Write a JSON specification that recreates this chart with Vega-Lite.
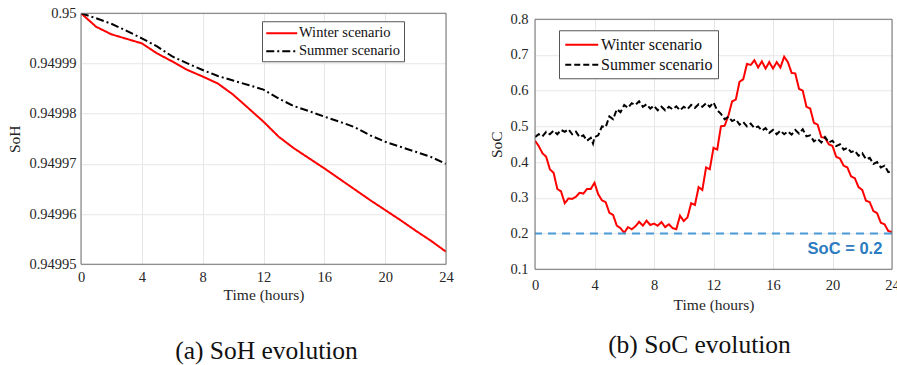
{
  "$schema": "https://vega.github.io/schema/vega-lite/v6.json",
  "background": "white",
  "padding": {"left": 7, "top": 5, "right": 0, "bottom": 0},
  "spacing": 35,
  "center": true,
  "config": {
    "font": "Liberation Serif",
    "view": {"stroke": null},
    "axis": {
      "labelFont": "Liberation Serif", "labelFontSize": 14.5, "labelColor": "#262626",
      "titleFont": "Liberation Serif", "titleFontSize": 15.5, "titleFontWeight": "normal", "titleColor": "#262626",
      "domain": false, "ticks": false, "grid": true, "gridWidth": 1, "gridColor": "#e6e6e6",
      "labelFlush": false, "labelOverlap": false, "labelBound": false, "labelSeparation": 0
    },
    "axisY": {"labelOverlap": false},
    "legend": {
      "labelFont": "Liberation Serif", "labelColor": "#111111",
      "strokeColor": "#555555", "fillColor": "white", "cornerRadius": 0,
      "symbolType": "M-1,0H3", "symbolStrokeWidth": 2
    },
    "title": {"font": "Liberation Serif", "fontWeight": "normal", "color": "#111111"}
  },
  "resolve": {
    "scale": {"color": "independent", "strokeDash": "independent"},
    "legend": {"color": "independent", "strokeDash": "independent"}
  },
  "datasets": {
    "soh": [
      {"t": 0, "v": 0.95, "s": "Winter scenario"},
      {"t": 1, "v": 0.9499973, "s": "Winter scenario"},
      {"t": 2, "v": 0.9499958, "s": "Winter scenario"},
      {"t": 3, "v": 0.9499949, "s": "Winter scenario"},
      {"t": 4, "v": 0.9499940, "s": "Winter scenario"},
      {"t": 5, "v": 0.9499920, "s": "Winter scenario"},
      {"t": 6, "v": 0.9499904, "s": "Winter scenario"},
      {"t": 7, "v": 0.9499887, "s": "Winter scenario"},
      {"t": 8, "v": 0.9499874, "s": "Winter scenario"},
      {"t": 9, "v": 0.9499860, "s": "Winter scenario"},
      {"t": 10, "v": 0.9499838, "s": "Winter scenario"},
      {"t": 11, "v": 0.9499811, "s": "Winter scenario"},
      {"t": 12, "v": 0.9499784, "s": "Winter scenario"},
      {"t": 13, "v": 0.9499754, "s": "Winter scenario"},
      {"t": 14, "v": 0.9499731, "s": "Winter scenario"},
      {"t": 15, "v": 0.9499711, "s": "Winter scenario"},
      {"t": 16, "v": 0.9499691, "s": "Winter scenario"},
      {"t": 17, "v": 0.9499670, "s": "Winter scenario"},
      {"t": 18, "v": 0.9499649, "s": "Winter scenario"},
      {"t": 19, "v": 0.9499628, "s": "Winter scenario"},
      {"t": 20, "v": 0.9499608, "s": "Winter scenario"},
      {"t": 21, "v": 0.9499588, "s": "Winter scenario"},
      {"t": 22, "v": 0.9499567, "s": "Winter scenario"},
      {"t": 23, "v": 0.9499547, "s": "Winter scenario"},
      {"t": 24, "v": 0.9499525, "s": "Winter scenario"},
      {"t": 0, "v": 0.95, "s": "Summer scenario"},
      {"t": 1, "v": 0.9499990, "s": "Summer scenario"},
      {"t": 2, "v": 0.9499979, "s": "Summer scenario"},
      {"t": 3, "v": 0.9499965, "s": "Summer scenario"},
      {"t": 4, "v": 0.9499950, "s": "Summer scenario"},
      {"t": 5, "v": 0.9499934, "s": "Summer scenario"},
      {"t": 6, "v": 0.9499914, "s": "Summer scenario"},
      {"t": 7, "v": 0.9499900, "s": "Summer scenario"},
      {"t": 8, "v": 0.9499887, "s": "Summer scenario"},
      {"t": 9, "v": 0.9499875, "s": "Summer scenario"},
      {"t": 10, "v": 0.9499866, "s": "Summer scenario"},
      {"t": 11, "v": 0.9499857, "s": "Summer scenario"},
      {"t": 12, "v": 0.9499848, "s": "Summer scenario"},
      {"t": 13, "v": 0.9499830, "s": "Summer scenario"},
      {"t": 14, "v": 0.9499815, "s": "Summer scenario"},
      {"t": 15, "v": 0.9499805, "s": "Summer scenario"},
      {"t": 16, "v": 0.9499794, "s": "Summer scenario"},
      {"t": 17, "v": 0.9499784, "s": "Summer scenario"},
      {"t": 18, "v": 0.9499773, "s": "Summer scenario"},
      {"t": 19, "v": 0.9499757, "s": "Summer scenario"},
      {"t": 20, "v": 0.9499744, "s": "Summer scenario"},
      {"t": 21, "v": 0.9499734, "s": "Summer scenario"},
      {"t": 22, "v": 0.9499724, "s": "Summer scenario"},
      {"t": 23, "v": 0.9499714, "s": "Summer scenario"},
      {"t": 24, "v": 0.9499700, "s": "Summer scenario"}
    ],
    "soc": [
      {"t": 0, "v": 0.46, "s": "Winter scenario"},
      {"t": 0.25, "v": 0.445, "s": "Winter scenario"},
      {"t": 0.5, "v": 0.425, "s": "Winter scenario"},
      {"t": 0.75, "v": 0.415, "s": "Winter scenario"},
      {"t": 1.0, "v": 0.38, "s": "Winter scenario"},
      {"t": 1.25, "v": 0.37, "s": "Winter scenario"},
      {"t": 1.5, "v": 0.325, "s": "Winter scenario"},
      {"t": 1.75, "v": 0.318, "s": "Winter scenario"},
      {"t": 2.0, "v": 0.285, "s": "Winter scenario"},
      {"t": 2.25, "v": 0.298, "s": "Winter scenario"},
      {"t": 2.5, "v": 0.297, "s": "Winter scenario"},
      {"t": 2.75, "v": 0.303, "s": "Winter scenario"},
      {"t": 3.0, "v": 0.314, "s": "Winter scenario"},
      {"t": 3.25, "v": 0.312, "s": "Winter scenario"},
      {"t": 3.5, "v": 0.325, "s": "Winter scenario"},
      {"t": 3.75, "v": 0.325, "s": "Winter scenario"},
      {"t": 4.0, "v": 0.342, "s": "Winter scenario"},
      {"t": 4.25, "v": 0.31, "s": "Winter scenario"},
      {"t": 4.5, "v": 0.293, "s": "Winter scenario"},
      {"t": 4.75, "v": 0.288, "s": "Winter scenario"},
      {"t": 5.0, "v": 0.258, "s": "Winter scenario"},
      {"t": 5.25, "v": 0.252, "s": "Winter scenario"},
      {"t": 5.5, "v": 0.222, "s": "Winter scenario"},
      {"t": 5.75, "v": 0.215, "s": "Winter scenario"},
      {"t": 6.0, "v": 0.202, "s": "Winter scenario"},
      {"t": 6.25, "v": 0.218, "s": "Winter scenario"},
      {"t": 6.5, "v": 0.212, "s": "Winter scenario"},
      {"t": 6.75, "v": 0.22, "s": "Winter scenario"},
      {"t": 7.0, "v": 0.233, "s": "Winter scenario"},
      {"t": 7.25, "v": 0.222, "s": "Winter scenario"},
      {"t": 7.5, "v": 0.236, "s": "Winter scenario"},
      {"t": 7.75, "v": 0.224, "s": "Winter scenario"},
      {"t": 8.0, "v": 0.228, "s": "Winter scenario"},
      {"t": 8.25, "v": 0.222, "s": "Winter scenario"},
      {"t": 8.5, "v": 0.232, "s": "Winter scenario"},
      {"t": 8.75, "v": 0.218, "s": "Winter scenario"},
      {"t": 9.0, "v": 0.226, "s": "Winter scenario"},
      {"t": 9.25, "v": 0.215, "s": "Winter scenario"},
      {"t": 9.5, "v": 0.212, "s": "Winter scenario"},
      {"t": 9.75, "v": 0.25, "s": "Winter scenario"},
      {"t": 10.0, "v": 0.235, "s": "Winter scenario"},
      {"t": 10.25, "v": 0.245, "s": "Winter scenario"},
      {"t": 10.5, "v": 0.285, "s": "Winter scenario"},
      {"t": 10.75, "v": 0.28, "s": "Winter scenario"},
      {"t": 11.0, "v": 0.33, "s": "Winter scenario"},
      {"t": 11.25, "v": 0.322, "s": "Winter scenario"},
      {"t": 11.5, "v": 0.385, "s": "Winter scenario"},
      {"t": 11.75, "v": 0.38, "s": "Winter scenario"},
      {"t": 12.0, "v": 0.44, "s": "Winter scenario"},
      {"t": 12.25, "v": 0.435, "s": "Winter scenario"},
      {"t": 12.5, "v": 0.5, "s": "Winter scenario"},
      {"t": 12.75, "v": 0.502, "s": "Winter scenario"},
      {"t": 13.0, "v": 0.53, "s": "Winter scenario"},
      {"t": 13.25, "v": 0.57, "s": "Winter scenario"},
      {"t": 13.5, "v": 0.575, "s": "Winter scenario"},
      {"t": 13.75, "v": 0.625, "s": "Winter scenario"},
      {"t": 14.0, "v": 0.632, "s": "Winter scenario"},
      {"t": 14.25, "v": 0.675, "s": "Winter scenario"},
      {"t": 14.5, "v": 0.672, "s": "Winter scenario"},
      {"t": 14.75, "v": 0.685, "s": "Winter scenario"},
      {"t": 15.0, "v": 0.665, "s": "Winter scenario"},
      {"t": 15.25, "v": 0.682, "s": "Winter scenario"},
      {"t": 15.5, "v": 0.662, "s": "Winter scenario"},
      {"t": 15.75, "v": 0.68, "s": "Winter scenario"},
      {"t": 16.0, "v": 0.662, "s": "Winter scenario"},
      {"t": 16.25, "v": 0.68, "s": "Winter scenario"},
      {"t": 16.5, "v": 0.665, "s": "Winter scenario"},
      {"t": 16.75, "v": 0.695, "s": "Winter scenario"},
      {"t": 17.0, "v": 0.68, "s": "Winter scenario"},
      {"t": 17.25, "v": 0.65, "s": "Winter scenario"},
      {"t": 17.5, "v": 0.648, "s": "Winter scenario"},
      {"t": 17.75, "v": 0.605, "s": "Winter scenario"},
      {"t": 18.0, "v": 0.6, "s": "Winter scenario"},
      {"t": 18.25, "v": 0.555, "s": "Winter scenario"},
      {"t": 18.5, "v": 0.55, "s": "Winter scenario"},
      {"t": 18.75, "v": 0.51, "s": "Winter scenario"},
      {"t": 19.0, "v": 0.505, "s": "Winter scenario"},
      {"t": 19.25, "v": 0.47, "s": "Winter scenario"},
      {"t": 19.5, "v": 0.468, "s": "Winter scenario"},
      {"t": 19.75, "v": 0.45, "s": "Winter scenario"},
      {"t": 20.0, "v": 0.445, "s": "Winter scenario"},
      {"t": 20.25, "v": 0.415, "s": "Winter scenario"},
      {"t": 20.5, "v": 0.41, "s": "Winter scenario"},
      {"t": 20.75, "v": 0.39, "s": "Winter scenario"},
      {"t": 21.0, "v": 0.385, "s": "Winter scenario"},
      {"t": 21.25, "v": 0.36, "s": "Winter scenario"},
      {"t": 21.5, "v": 0.355, "s": "Winter scenario"},
      {"t": 21.75, "v": 0.33, "s": "Winter scenario"},
      {"t": 22.0, "v": 0.322, "s": "Winter scenario"},
      {"t": 22.25, "v": 0.292, "s": "Winter scenario"},
      {"t": 22.5, "v": 0.288, "s": "Winter scenario"},
      {"t": 22.75, "v": 0.263, "s": "Winter scenario"},
      {"t": 23.0, "v": 0.257, "s": "Winter scenario"},
      {"t": 23.25, "v": 0.23, "s": "Winter scenario"},
      {"t": 23.5, "v": 0.226, "s": "Winter scenario"},
      {"t": 23.75, "v": 0.207, "s": "Winter scenario"},
      {"t": 24.0, "v": 0.204, "s": "Winter scenario"},
      {"t": 0, "v": 0.47, "s": "Summer scenario"},
      {"t": 0.25, "v": 0.478, "s": "Summer scenario"},
      {"t": 0.5, "v": 0.472, "s": "Summer scenario"},
      {"t": 0.75, "v": 0.485, "s": "Summer scenario"},
      {"t": 1.0, "v": 0.478, "s": "Summer scenario"},
      {"t": 1.25, "v": 0.488, "s": "Summer scenario"},
      {"t": 1.5, "v": 0.478, "s": "Summer scenario"},
      {"t": 1.75, "v": 0.49, "s": "Summer scenario"},
      {"t": 2.0, "v": 0.485, "s": "Summer scenario"},
      {"t": 2.25, "v": 0.492, "s": "Summer scenario"},
      {"t": 2.5, "v": 0.478, "s": "Summer scenario"},
      {"t": 2.75, "v": 0.485, "s": "Summer scenario"},
      {"t": 3.0, "v": 0.47, "s": "Summer scenario"},
      {"t": 3.25, "v": 0.475, "s": "Summer scenario"},
      {"t": 3.5, "v": 0.46, "s": "Summer scenario"},
      {"t": 3.75, "v": 0.468, "s": "Summer scenario"},
      {"t": 3.9, "v": 0.452, "s": "Summer scenario"},
      {"t": 4.0, "v": 0.47, "s": "Summer scenario"},
      {"t": 4.25, "v": 0.475, "s": "Summer scenario"},
      {"t": 4.5, "v": 0.5, "s": "Summer scenario"},
      {"t": 4.75, "v": 0.498, "s": "Summer scenario"},
      {"t": 5.0, "v": 0.528, "s": "Summer scenario"},
      {"t": 5.25, "v": 0.52, "s": "Summer scenario"},
      {"t": 5.5, "v": 0.548, "s": "Summer scenario"},
      {"t": 5.75, "v": 0.54, "s": "Summer scenario"},
      {"t": 6.0, "v": 0.56, "s": "Summer scenario"},
      {"t": 6.25, "v": 0.552, "s": "Summer scenario"},
      {"t": 6.5, "v": 0.565, "s": "Summer scenario"},
      {"t": 6.75, "v": 0.56, "s": "Summer scenario"},
      {"t": 7.0, "v": 0.57, "s": "Summer scenario"},
      {"t": 7.25, "v": 0.555, "s": "Summer scenario"},
      {"t": 7.5, "v": 0.562, "s": "Summer scenario"},
      {"t": 7.75, "v": 0.55, "s": "Summer scenario"},
      {"t": 8.0, "v": 0.558, "s": "Summer scenario"},
      {"t": 8.25, "v": 0.545, "s": "Summer scenario"},
      {"t": 8.5, "v": 0.555, "s": "Summer scenario"},
      {"t": 8.75, "v": 0.545, "s": "Summer scenario"},
      {"t": 9.0, "v": 0.555, "s": "Summer scenario"},
      {"t": 9.25, "v": 0.548, "s": "Summer scenario"},
      {"t": 9.5, "v": 0.556, "s": "Summer scenario"},
      {"t": 9.75, "v": 0.545, "s": "Summer scenario"},
      {"t": 10.0, "v": 0.555, "s": "Summer scenario"},
      {"t": 10.25, "v": 0.548, "s": "Summer scenario"},
      {"t": 10.5, "v": 0.56, "s": "Summer scenario"},
      {"t": 10.75, "v": 0.552, "s": "Summer scenario"},
      {"t": 11.0, "v": 0.562, "s": "Summer scenario"},
      {"t": 11.25, "v": 0.555, "s": "Summer scenario"},
      {"t": 11.5, "v": 0.565, "s": "Summer scenario"},
      {"t": 11.75, "v": 0.555, "s": "Summer scenario"},
      {"t": 12.0, "v": 0.567, "s": "Summer scenario"},
      {"t": 12.25, "v": 0.545, "s": "Summer scenario"},
      {"t": 12.5, "v": 0.535, "s": "Summer scenario"},
      {"t": 12.75, "v": 0.52, "s": "Summer scenario"},
      {"t": 13.0, "v": 0.527, "s": "Summer scenario"},
      {"t": 13.25, "v": 0.515, "s": "Summer scenario"},
      {"t": 13.5, "v": 0.52, "s": "Summer scenario"},
      {"t": 13.75, "v": 0.505, "s": "Summer scenario"},
      {"t": 14.0, "v": 0.512, "s": "Summer scenario"},
      {"t": 14.25, "v": 0.5, "s": "Summer scenario"},
      {"t": 14.5, "v": 0.508, "s": "Summer scenario"},
      {"t": 14.75, "v": 0.495, "s": "Summer scenario"},
      {"t": 15.0, "v": 0.5, "s": "Summer scenario"},
      {"t": 15.25, "v": 0.488, "s": "Summer scenario"},
      {"t": 15.5, "v": 0.495, "s": "Summer scenario"},
      {"t": 15.75, "v": 0.482, "s": "Summer scenario"},
      {"t": 16.0, "v": 0.49, "s": "Summer scenario"},
      {"t": 16.25, "v": 0.478, "s": "Summer scenario"},
      {"t": 16.5, "v": 0.488, "s": "Summer scenario"},
      {"t": 16.75, "v": 0.478, "s": "Summer scenario"},
      {"t": 17.0, "v": 0.486, "s": "Summer scenario"},
      {"t": 17.25, "v": 0.477, "s": "Summer scenario"},
      {"t": 17.5, "v": 0.49, "s": "Summer scenario"},
      {"t": 17.75, "v": 0.48, "s": "Summer scenario"},
      {"t": 18.0, "v": 0.492, "s": "Summer scenario"},
      {"t": 18.25, "v": 0.472, "s": "Summer scenario"},
      {"t": 18.5, "v": 0.475, "s": "Summer scenario"},
      {"t": 18.75, "v": 0.458, "s": "Summer scenario"},
      {"t": 19.0, "v": 0.465, "s": "Summer scenario"},
      {"t": 19.25, "v": 0.455, "s": "Summer scenario"},
      {"t": 19.5, "v": 0.47, "s": "Summer scenario"},
      {"t": 19.75, "v": 0.455, "s": "Summer scenario"},
      {"t": 20.0, "v": 0.46, "s": "Summer scenario"},
      {"t": 20.25, "v": 0.445, "s": "Summer scenario"},
      {"t": 20.5, "v": 0.45, "s": "Summer scenario"},
      {"t": 20.75, "v": 0.435, "s": "Summer scenario"},
      {"t": 21.0, "v": 0.44, "s": "Summer scenario"},
      {"t": 21.25, "v": 0.428, "s": "Summer scenario"},
      {"t": 21.5, "v": 0.432, "s": "Summer scenario"},
      {"t": 21.75, "v": 0.418, "s": "Summer scenario"},
      {"t": 22.0, "v": 0.425, "s": "Summer scenario"},
      {"t": 22.25, "v": 0.408, "s": "Summer scenario"},
      {"t": 22.5, "v": 0.412, "s": "Summer scenario"},
      {"t": 22.75, "v": 0.395, "s": "Summer scenario"},
      {"t": 23.0, "v": 0.4, "s": "Summer scenario"},
      {"t": 23.25, "v": 0.385, "s": "Summer scenario"},
      {"t": 23.5, "v": 0.39, "s": "Summer scenario"},
      {"t": 23.75, "v": 0.372, "s": "Summer scenario"},
      {"t": 24.0, "v": 0.375, "s": "Summer scenario"}
    ]
  },
  "hconcat": [
    {
      "width": 365,
      "height": 251,
      "title": {"text": "(a) SoH evolution", "orient": "bottom", "anchor": "middle", "offset": 36, "fontSize": 25.5, "font": "Liberation Serif", "fontWeight": "normal", "dx": 3},
      "layer": [
        {
          "data": {"name": "soh"},
          "mark": {"type": "line", "strokeWidth": 2, "clip": true},
          "encoding": {
            "x": {
              "field": "t", "type": "quantitative",
              "scale": {"domain": [0, 24], "nice": false},
              "axis": {"values": [0, 4, 8, 12, 16, 20, 24], "title": "Time (hours)", "labelPadding": 6, "titlePadding": 4, "titleFontWeight": "normal"}
            },
            "y": {
              "field": "v", "type": "quantitative",
              "scale": {"domain": [0.94995, 0.95], "zero": false, "nice": false},
              "axis": {"values": [0.94995, 0.94996, 0.94997, 0.94998, 0.94999, 0.95], "format": ".5~f", "title": "SoH", "labelPadding": 5, "titlePadding": 6, "titleFontWeight": "normal", "labelOverlap": false}
            },
            "color": {
              "field": "s", "type": "nominal",
              "scale": {"domain": ["Winter scenario", "Summer scenario"], "range": ["#ff0000", "#000000"]},
              "legend": {"orient": "none", "legendX": 181, "legendY": 8, "title": null, "labelFontSize": 14.5, "symbolSize": 240, "rowPadding": 2, "labelOffset": 16, "padding": 3}
            },
            "strokeDash": {
              "field": "s", "type": "nominal",
              "scale": {"domain": ["Winter scenario", "Summer scenario"], "range": [[1, 0], [8, 3, 2, 3]]},
              "legend": {"orient": "none", "legendX": 181, "legendY": 8, "title": null, "labelFontSize": 14.5, "symbolSize": 240, "rowPadding": 2, "labelOffset": 16, "padding": 3}
            }
          }
        },
        {
          "data": {"values": [{"t0": 0, "t1": 24, "v0": 0.94995, "v1": 0.95}]},
          "mark": {"type": "rect", "fillOpacity": 0, "stroke": "#707070", "strokeWidth": 1, "strokeOffset": 0.5},
          "encoding": {
            "x": {"field": "t0", "type": "quantitative"},
            "x2": {"field": "t1"},
            "y": {"field": "v0", "type": "quantitative"},
            "y2": {"field": "v1"}
          }
        }
      ]
    },
    {
      "width": 357,
      "height": 250,
      "title": {"text": "(b) SoC evolution", "orient": "bottom", "anchor": "middle", "offset": 20, "fontSize": 25.5, "font": "Liberation Serif", "fontWeight": "normal", "dx": -14},
      "layer": [
        {
          "data": {"name": "soc"},
          "mark": {"type": "line", "strokeWidth": 2, "clip": true},
          "encoding": {
            "x": {
              "field": "t", "type": "quantitative",
              "scale": {"domain": [0, 24], "nice": false},
              "axis": {"values": [0, 4, 8, 12, 16, 20, 24], "title": "Time (hours)", "labelPadding": 9, "titlePadding": 6, "titleFontWeight": "normal"}
            },
            "y": {
              "field": "v", "type": "quantitative",
              "scale": {"domain": [0.1, 0.8], "zero": false, "nice": false},
              "axis": {"values": [0.1, 0.2, 0.3, 0.4, 0.5, 0.6, 0.7, 0.8], "format": ".1f", "title": "SoC", "labelPadding": 7, "titlePadding": 5, "labelOverlap": false, "labelSeparation": 0, "titleFontWeight": "normal"}
            },
            "color": {
              "field": "s", "type": "nominal",
              "scale": {"domain": ["Winter scenario", "Summer scenario"], "range": ["#ff0000", "#000000"]},
              "legend": {"orient": "none", "legendX": 24, "legendY": 11, "title": null, "labelFontSize": 16, "symbolSize": 272, "rowPadding": 2, "labelOffset": 18, "padding": 5}
            },
            "strokeDash": {
              "field": "s", "type": "nominal",
              "scale": {"domain": ["Winter scenario", "Summer scenario"], "range": [[1, 0], [6, 3]]},
              "legend": {"orient": "none", "legendX": 24, "legendY": 11, "title": null, "labelFontSize": 16, "symbolSize": 272, "rowPadding": 2, "labelOffset": 18, "padding": 5}
            }
          }
        },
        {
          "data": {"values": [{"v": 0.2}]},
          "mark": {"type": "rule", "color": "#4a9ad8", "strokeWidth": 2, "strokeDash": [8, 6]},
          "encoding": {
            "y": {"field": "v", "type": "quantitative", "axis": {"values": [0.1, 0.2, 0.3, 0.4, 0.5, 0.6, 0.7, 0.8], "format": ".1f", "title": "SoC", "labelPadding": 7, "titlePadding": 5, "labelOverlap": false, "labelSeparation": 0, "titleFontWeight": "normal"}}
          }
        },
        {
          "data": {"values": [{"t": 23.35, "v": 0.158, "label": "SoC = 0.2"}]},
          "mark": {"type": "text", "align": "right", "baseline": "middle", "font": "Liberation Sans", "fontWeight": "bold", "fontSize": 16.5, "color": "#2b7cc0"},
          "encoding": {
            "x": {"field": "t", "type": "quantitative", "axis": {"values": [0, 4, 8, 12, 16, 20, 24], "title": "Time (hours)", "labelPadding": 9, "titlePadding": 6, "titleFontWeight": "normal"}},
            "y": {"field": "v", "type": "quantitative", "axis": {"values": [0.1, 0.2, 0.3, 0.4, 0.5, 0.6, 0.7, 0.8], "format": ".1f", "title": "SoC", "labelPadding": 7, "titlePadding": 5, "labelOverlap": false, "labelSeparation": 0, "titleFontWeight": "normal"}},
            "text": {"field": "label"}
          }
        },
        {
          "data": {"values": [{"t0": 0, "t1": 24, "v0": 0.1, "v1": 0.8}]},
          "mark": {"type": "rect", "fillOpacity": 0, "stroke": "#707070", "strokeWidth": 1, "strokeOffset": 0.5},
          "encoding": {
            "x": {"field": "t0", "type": "quantitative", "axis": {"values": [0, 4, 8, 12, 16, 20, 24], "title": "Time (hours)", "labelPadding": 9, "titlePadding": 6, "titleFontWeight": "normal"}},
            "x2": {"field": "t1"},
            "y": {"field": "v0", "type": "quantitative", "axis": {"values": [0.1, 0.2, 0.3, 0.4, 0.5, 0.6, 0.7, 0.8], "format": ".1f", "title": "SoC", "labelPadding": 7, "titlePadding": 5, "labelOverlap": false, "labelSeparation": 0, "titleFontWeight": "normal"}},
            "y2": {"field": "v1"}
          }
        }
      ]
    }
  ]
}
